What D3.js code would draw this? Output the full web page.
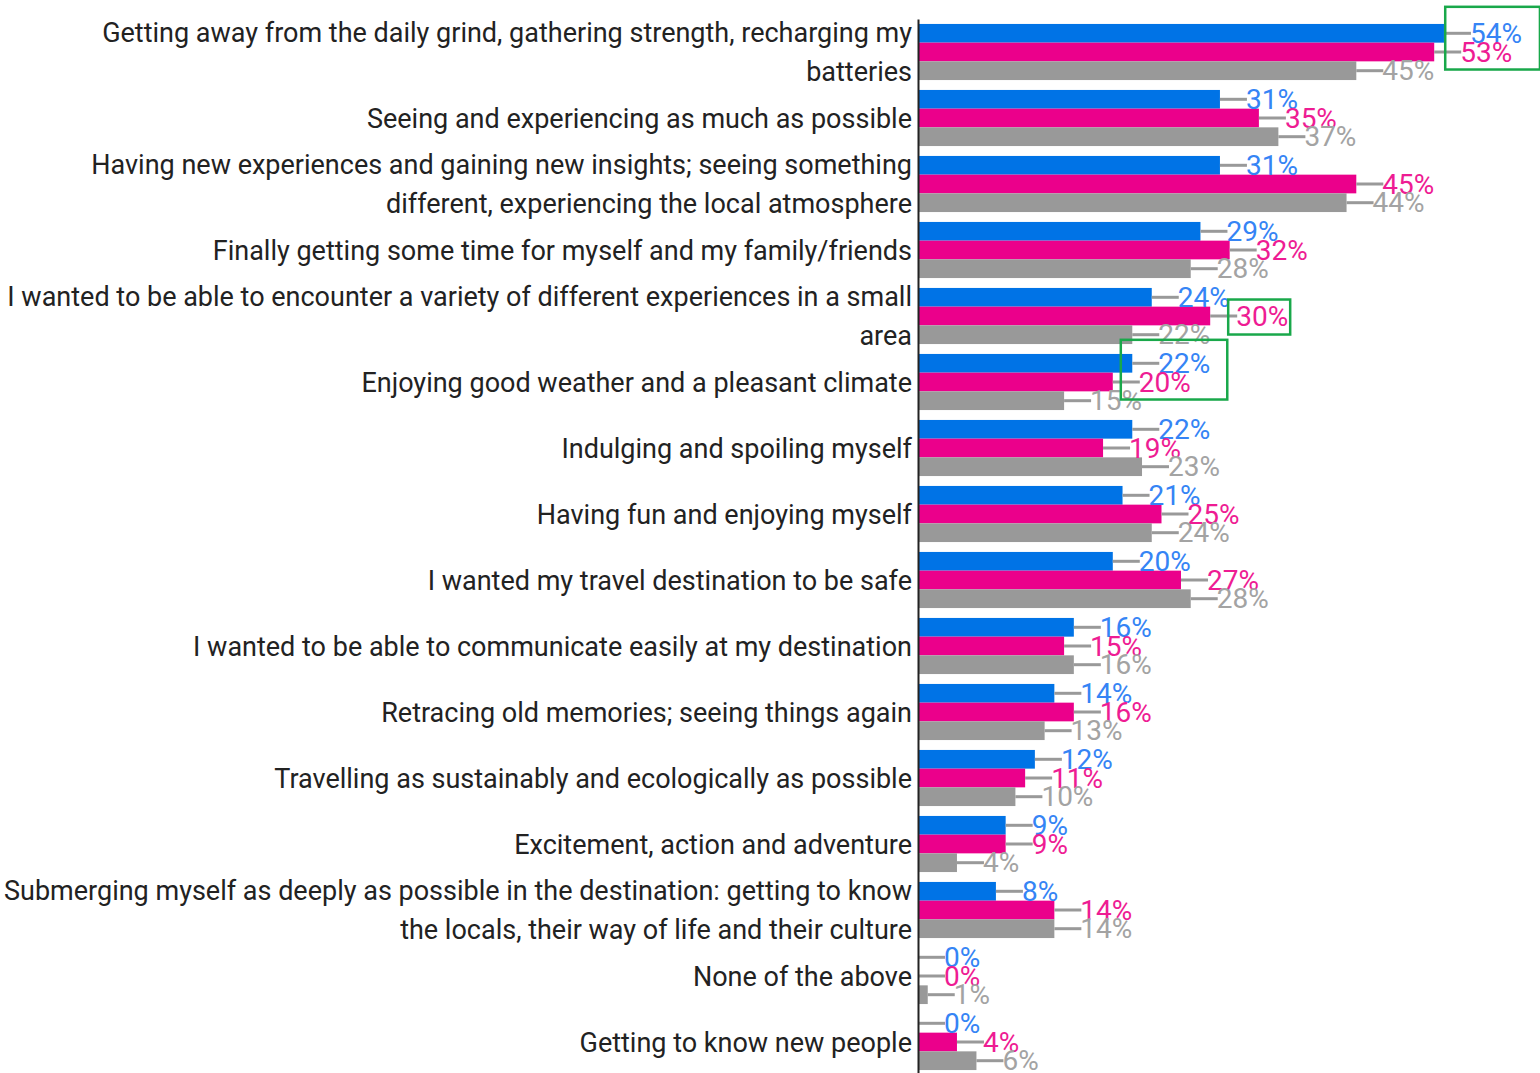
<!DOCTYPE html>
<html>
<head>
<meta charset="utf-8">
<script src="https://cdn.jsdelivr.net/npm/d3@7/dist/d3.min.js"></script>
<style>
  html, body { margin: 0; padding: 0; background: #fff; }
  svg { display: block; }
  text { font-family: Roboto, "Noto Sans", sans-serif; }
</style>
</head>
<body>
<svg id="chart" width="1540" height="1073"></svg>
<script>
// Travel motives, share of respondents (%) for three survey groups
const categories = [
  ["Getting away from the daily grind, gathering strength, recharging my", "batteries"],
  ["Seeing and experiencing as much as possible"],
  ["Having new experiences and gaining new insights; seeing something", "different, experiencing the local atmosphere"],
  ["Finally getting some time for myself and my family/friends"],
  ["I wanted to be able to encounter a variety of different experiences in a small", "area"],
  ["Enjoying good weather and a pleasant climate"],
  ["Indulging and spoiling myself"],
  ["Having fun and enjoying myself"],
  ["I wanted my travel destination to be safe"],
  ["I wanted to be able to communicate easily at my destination"],
  ["Retracing old memories; seeing things again"],
  ["Travelling as sustainably and ecologically as possible"],
  ["Excitement, action and adventure"],
  ["Submerging myself as deeply as possible in the destination: getting to know", "the locals, their way of life and their culture"],
  ["None of the above"],
  ["Getting to know new people"]
];
const seriesNames = ["blue", "pink", "gray"];
const blueValues = [54, 31, 31, 29, 24, 22, 22, 21, 20, 16, 14, 12, 9, 8, 0, 0];
const pinkValues = [53, 35, 45, 32, 30, 20, 19, 25, 27, 15, 16, 11, 9, 14, 0, 4];
const grayValues = [45, 37, 44, 28, 22, 15, 23, 24, 28, 16, 13, 10, 4, 14, 1, 6];

// Labels framed by a highlight box: [category index, [series indices]]
const highlights = [
  [0, [0, 1]],
  [4, [1]],
  [5, [0, 1]]
];

const barColors = ["#0073e6", "#eb008b", "#999999"];
const labelColors = ["#3584f5", "#ee1c93", "#a3a3a3"];

const values = [blueValues, pinkValues, grayValues];
const keys = categories.map((c, i) => i);

const svg = d3.select("#chart");
const axisX = 918;

const x = d3.scaleLinear().domain([0, 100]).range([axisX, axisX + 974]);
const y = d3.scaleBand().domain(keys).range([19, 1075]).paddingInner(0.15).paddingOuter(0.075);
const ySub = d3.scaleBand().domain(seriesNames).range([0, y.bandwidth()]);

// Bars
const groups = svg.append("g").selectAll("g")
  .data(keys)
  .join("g")
  .attr("transform", i => `translate(0,${y(i)})`);

seriesNames.forEach((s, si) => {
  groups.append("rect")
    .attr("x", x(0))
    .attr("y", ySub(s))
    .attr("width", i => x(values[si][i]) - x(0))
    .attr("height", ySub.bandwidth())
    .attr("fill", barColors[si]);
});

// Leader lines and value labels
const labelNodes = {};
seriesNames.forEach((s, si) => {
  groups.append("line")
    .attr("x1", i => x(values[si][i]))
    .attr("x2", i => x(values[si][i]) + 27)
    .attr("y1", ySub(s) + ySub.bandwidth() / 2)
    .attr("y2", ySub(s) + ySub.bandwidth() / 2)
    .attr("stroke", "#999")
    .attr("stroke-width", 3);
});
seriesNames.forEach((s, si) => {
  groups.append("text")
    .attr("x", i => x(values[si][i]) + 26)
    .attr("y", ySub(s) + ySub.bandwidth() / 2)
    .attr("dy", "0.34em")
    .attr("fill", labelColors[si])
    .attr("font-size", 28)
    .text(i => values[si][i] + "%")
    .each(function(i) { labelNodes[i + "-" + si] = this; });
});

// Axis line
svg.append("g")
  .attr("transform", `translate(${axisX},0)`)
  .call(d3.axisLeft(y).tickSize(0).tickFormat(""))
  .call(g => g.select(".domain").attr("stroke", "#222").attr("stroke-width", 2))
  .call(g => g.selectAll(".tick").remove());

// Category labels, right aligned against the axis
const catSize = 27;
const catText = svg.append("g").selectAll("text")
  .data(keys)
  .join("text")
  .attr("text-anchor", "end")
  .attr("font-size", catSize)
  .attr("fill", "#222")
  .attr("x", axisX - 6)
  .attr("y", i => y(i) + y.bandwidth() / 2);

catText.each(function(i) {
  const lines = categories[i];
  const t = d3.select(this);
  const lh = 38.5;
  const off = -(lines.length - 1) * lh / 2;
  lines.forEach((ln, li) => {
    t.append("tspan")
      .attr("x", axisX - 6)
      .attr("dy", li === 0 ? (off / catSize + 0.36) + "em" : lh + "px")
      .text(ln);
  });
});

// Highlight boxes around selected value labels
const pads = [[15, 10, 18, 1], [8, 0, 2, 2], [18, 7, 17, 1]]; // left, top, right, bottom
highlights.forEach(([ci, ss], hi) => {
  const boxes = ss.map(si => {
    const node = labelNodes[ci + "-" + si];
    const b = node.getBBox();
    return { x0: b.x, y0: b.y + y(ci), x1: b.x + b.width, y1: b.y + b.height + y(ci) };
  });
  const x0 = d3.min(boxes, b => b.x0) - pads[hi][0];
  const y0 = d3.min(boxes, b => b.y0) - pads[hi][1];
  const x1 = d3.max(boxes, b => b.x1) + pads[hi][2];
  const y1 = d3.max(boxes, b => b.y1) + pads[hi][3];
  svg.append("rect")
    .attr("x", x0).attr("y", y0)
    .attr("width", x1 - x0).attr("height", y1 - y0)
    .attr("fill", "none")
    .attr("stroke", "#19a84a")
    .attr("stroke-width", 2.5);
});
</script>
</body>
</html>
